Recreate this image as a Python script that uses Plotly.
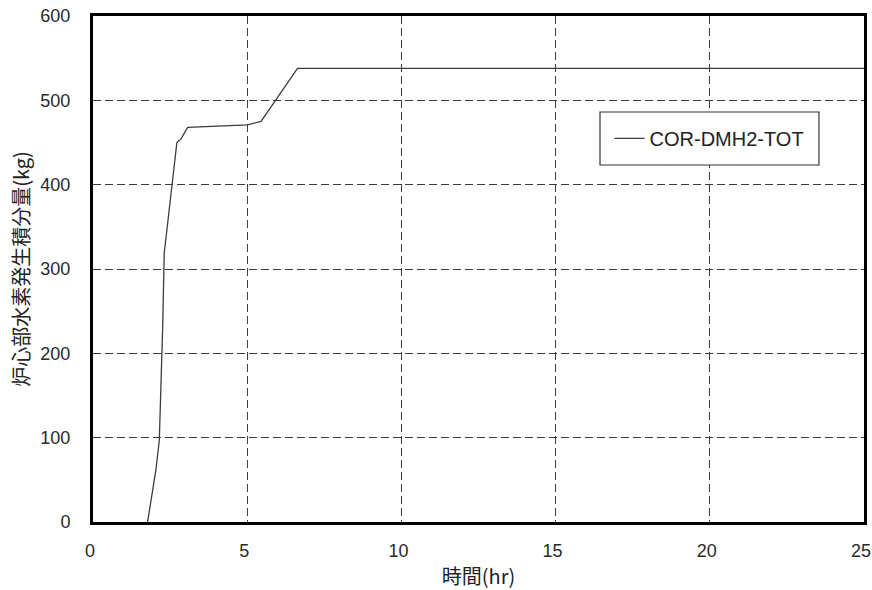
import plotly.graph_objects as go

time_hr = [1.77, 2.04, 2.15, 2.20, 2.26, 2.31, 2.37, 2.47, 2.58, 2.64, 2.72, 2.85, 3.07, 5.01, 5.45, 6.63, 25.0]
h2_kg = [0, 62, 97, 153, 232, 319, 339, 367, 402, 430, 450, 454, 468, 471, 475, 538, 538]
series_name = "COR-DMH2-TOT"
x_ticks = [0, 5, 10, 15, 20, 25]
y_ticks = [0, 100, 200, 300, 400, 500, 600]

fig = go.Figure()
fig.add_trace(go.Scatter(x=time_hr, y=h2_kg, mode="lines", name=series_name,
                         line=dict(color="#3c3c3c", width=1.3)))

tick_font = dict(family="Liberation Sans, Arial, sans-serif", size=18, color="#2a2a2a")
axis_common = dict(showline=True, linecolor="black", linewidth=3, mirror=True,
                   showgrid=True, gridcolor="#3a3a3a", griddash="8px,4px", gridwidth=1,
                   zeroline=False, ticks="", automargin=False, tickfont=tick_font,
                   ticklabeloverflow="allow")

fig.update_layout(
    width=872, height=590,
    margin=dict(l=93, r=8, t=16, b=68),
    paper_bgcolor="white", plot_bgcolor="white",
    showlegend=True,
    legend=dict(x=0.670, y=0.758, xanchor="left", yanchor="middle",
                borderwidth=0, bgcolor="rgba(0,0,0,0)",
                font=dict(family="Liberation Sans, Arial, sans-serif", size=20, color="#222222"),
                itemwidth=30),
    shapes=[dict(type="rect", xref="paper", yref="paper",
                 x0=0.6576, x1=0.9416, y0=0.7055, y1=0.8103,
                 line=dict(color="#333333", width=1.2), fillcolor="white", layer="above")],
    xaxis=dict(range=[0, 25], tickvals=x_ticks, ticklabelstandoff=10, ticklabelshift=-3,
               title=dict(text="時間(hr)", standoff=14,
                          font=dict(family="Noto Sans CJK JP", size=20, color="#222222")),
               **axis_common),
    yaxis=dict(range=[0, 600], tickvals=y_ticks, ticklabelstandoff=16,
               title=dict(text="炉心部水素発生積分量(kg)", standoff=6,
                          font=dict(family="Noto Sans CJK JP", size=20, color="#222222")),
               **axis_common),
)

fig.write_html("out.html", config={"displayModeBar": False},
               post_script="document.body.style.margin='0';document.body.style.overflow='hidden';")
